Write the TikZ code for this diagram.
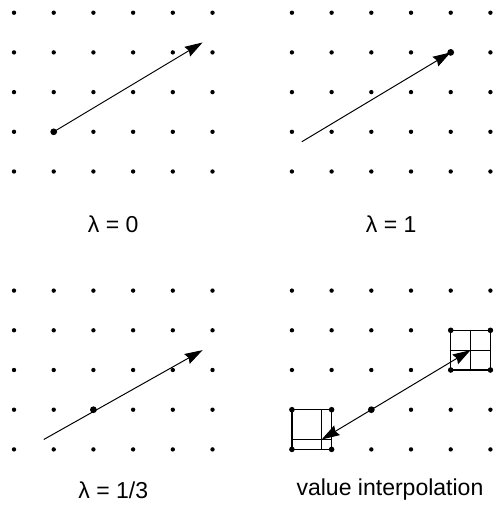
\documentclass[tikz,border=0pt]{standalone}
\usepackage{fontspec}
\setmainfont{Liberation Sans}
\usetikzlibrary{arrows.meta}
\tikzset{
  griddot/.style={fill=black},
  bigdot/.style={circle,fill=black,inner sep=0pt,minimum size=0.17cm},
  vec/.style={line width=0.7pt,-{Stealth[length=0.45cm,width=0.28cm,inset=0.05cm]}},
  dvec/.style={line width=0.7pt,{Stealth[length=0.45cm,width=0.28cm,inset=0.05cm]}-{Stealth[length=0.45cm,width=0.28cm,inset=0.05cm]}},
  cell/.style={line width=0.9pt},
  lbl/.style={font=\fontsize{16.5}{19}\selectfont,inner sep=0pt}
}
\begin{document}
\begin{tikzpicture}
\useasboundingbox (-0.353,0.32) rectangle (12.141,-12.602);
% grid dots
\foreach \x in {0,...,5,7,8,...,12}
  \foreach \y in {0,...,4,7,8,...,11}
    \fill[griddot] (\x,-\y) circle (0.055);
% panel 1: lambda = 0
\node[bigdot] (a0) at (1,-3) {};
\coordinate (a1) at (4.75,-0.75);
\draw[vec] (a0.center) -- (a1);
\node[lbl] (l1) at (2.5,-5.33) {λ = 0};
% panel 2: lambda = 1
\coordinate (b0) at (7.25,-3.25);
\node[bigdot] (b1) at (11,-1) {};
\draw[vec] (b0) -- (b1.center);
\node[lbl] (l2) at (9.5,-5.33) {λ = 1};
% panel 3: lambda = 1/3
\coordinate (c0) at (0.75,-10.75);
\node[bigdot] (cm) at (2,-10) {};
\coordinate (c1) at (4.75,-8.5);
\draw[vec] (c0) -- (c1);
\node[lbl] (l3) at (2.5,-12.02) {λ = 1/3};
% panel 4: value interpolation
\draw[cell] (7,-10) rectangle (8,-11);
\draw[cell] (7.75,-10) -- (7.75,-11);
\draw[cell] (7,-10.75) -- (8,-10.75);
\draw[cell] (11,-8) rectangle (12,-9);
\draw[cell] (11.5,-8) -- (11.5,-9);
\draw[cell] (11,-8.5) -- (12,-8.5);
\foreach \p in {(7,-10),(8,-10),(7,-11),(8,-11),(11,-8),(12,-8),(11,-9),(12,-9)}
  \fill \p circle (0.07);
\node[bigdot] (dm) at (9,-10) {};
\coordinate (d0) at (7.75,-10.75);
\coordinate (d1) at (11.5,-8.5);
\draw[dvec] (d0) -- (d1);
\node[lbl] (l4) at (9.47,-12.02) {value interpolation};
\end{tikzpicture}
\end{document}
